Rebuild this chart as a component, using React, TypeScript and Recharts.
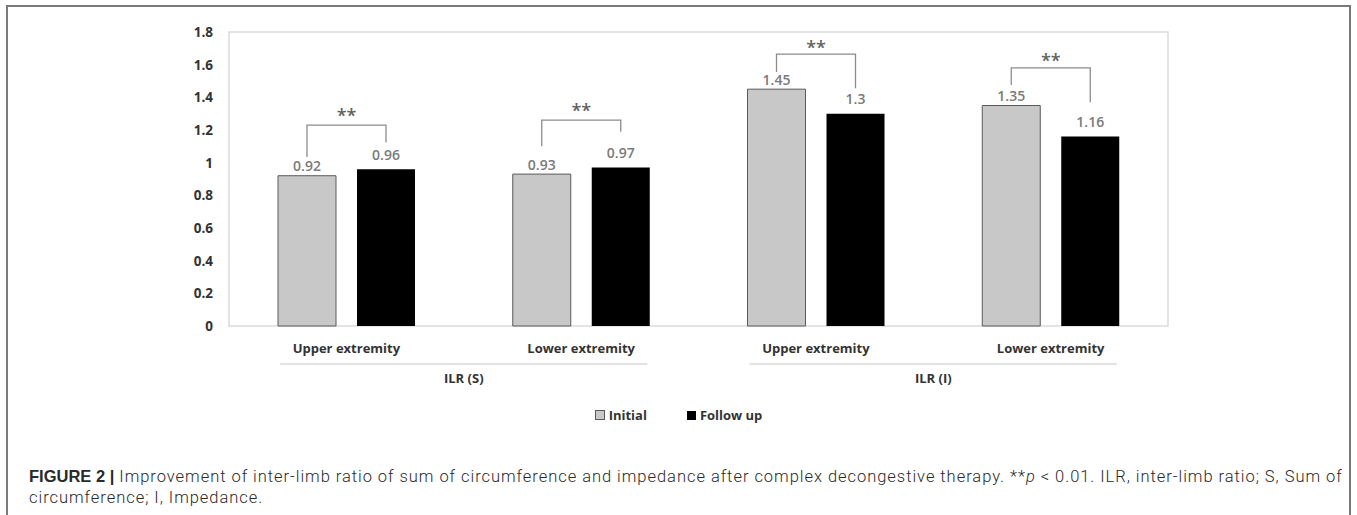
import React from 'react';
import {
  BarChart,
  Bar,
  XAxis,
  YAxis,
  ReferenceArea,
  LabelList,
  Legend,
} from 'recharts';

// ---- data ----
const categories = ['Upper extremity', 'Lower extremity', 'Upper extremity', 'Lower extremity'];
const groups = ['ILR (S)', 'ILR (S)', 'ILR (I)', 'ILR (I)'];
const initialValues = [0.92, 0.93, 1.45, 1.35];
const followUpValues = [0.96, 0.97, 1.3, 1.16];
const yTicks = [0, 0.2, 0.4, 0.6, 0.8, 1, 1.2, 1.4, 1.6, 1.8];
const seriesNames = ['Initial', 'Follow up'];

// significance annotations (value units)
const sigText = ['**', '**', '**', '**'];
const bracketTop = [1.23, 1.26, 1.665, 1.58];
const bracketLeftEnd = [1.035, 1.1, 1.555, 1.475];
const bracketRightEnd = [1.125, 1.19, 1.455, 1.37];
const sigLevel = [1.31, 1.34, 1.725, 1.645];

const data = categories.map((name, i) => ({
  name,
  group: groups[i],
  initial: initialValues[i],
  follow: followUpValues[i],
}));

const BAR_SIZE = 58;
const BAR_GAP = 21;
const AXIS_FONT = '"Open Sans", "Noto Sans", sans-serif';

const geom = (p: any) => {
  const vb = p.viewBox || {};
  return {
    x: p.x ?? vb.x,
    y: p.y ?? vb.y,
    w: p.width ?? vb.width,
    h: p.height ?? vb.height,
  };
};

const InitialLabel = (p: any) => {
  const { x, y, w } = geom(p);
  return (
    <text
      x={x + w / 2}
      y={y - 10}
      textAnchor="middle"
      dominantBaseline="central"
      fontFamily={AXIS_FONT}
      fontSize={14}
      fontWeight={600}
      fill="#7a7a7a"
    >
      {p.value}
    </text>
  );
};

const FollowLabel = (p: any) => {
  const { x, y, w, h } = geom(p);
  const i = p.index;
  const v = followUpValues[i];
  const pxPerUnit = h / v;
  const zeroY = y + h;
  const toY = (val: number) => zeroY - val * pxPerUnit;
  const rightX = x + w / 2;
  const leftX = x - BAR_GAP - w / 2;
  const topY = toY(bracketTop[i]);
  const midX = (leftX + rightX) / 2;
  return (
    <g>
      <text
        x={x + w / 2}
        y={y - 15}
        textAnchor="middle"
        dominantBaseline="central"
        fontFamily={AXIS_FONT}
        fontSize={14}
        fontWeight={600}
        fill="#7a7a7a"
      >
        {p.value}
      </text>
      <path
        d={`M${leftX},${toY(bracketLeftEnd[i])} L${leftX},${topY} L${rightX},${topY} L${rightX},${toY(bracketRightEnd[i])}`}
        fill="none"
        stroke="#8c8c8c"
        strokeWidth={1.3}
      />
      <text
        x={midX}
        y={toY(sigLevel[i]) + 10}
        textAnchor="middle"
        fontFamily={AXIS_FONT}
        fontSize={18}
        fontWeight={600}
        fill="#5f5f5f"
      >
        {sigText[i]}
      </text>
    </g>
  );
};

const CategoryTick = (p: any) => (
  <text
    x={p.x}
    y={p.y + 22}
    textAnchor="middle"
    dominantBaseline="central"
    fontFamily={AXIS_FONT}
    fontSize={13}
    fontWeight={700}
    fill="#333333"
  >
    {p.payload.value}
  </text>
);

const GroupTick = (p: any) => {
  const half = ((p.width ?? 0) / 4) * 0.782;
  return (
    <g>
      <line x1={p.x - half} x2={p.x + half} y1={p.y + 4} y2={p.y + 4} stroke="#d9d9d9" strokeWidth={1.5} />
      <text
        x={p.x}
        y={p.y + 18}
        textAnchor="middle"
        dominantBaseline="central"
        fontFamily={AXIS_FONT}
        fontSize={13}
        fontWeight={700}
        fill="#333333"
      >
        {p.payload.value}
      </text>
    </g>
  );
};

const YTick = (p: any) => (
  <text
    x={p.x}
    y={p.y}
    textAnchor="end"
    dominantBaseline="central"
    fontFamily={AXIS_FONT}
    fontSize={13.5}
    fontWeight={700}
    fill="#333333"
  >
    {p.payload.value}
  </text>
);

const LegendContent = () => (
  <div
    style={{
      height: 30,
      display: 'flex',
      justifyContent: 'center',
      alignItems: 'center',
      gap: 40,
      fontFamily: AXIS_FONT,
      fontSize: 13,
      fontWeight: 700,
      color: '#333333',
    }}
  >
    <div style={{ display: 'flex', alignItems: 'center', gap: 4 }}>
      <span style={{ width: 8, height: 8, background: '#c8c8c8', border: '1px solid #5a5a5a', display: 'inline-block' }} />
      <span>{seriesNames[0]}</span>
    </div>
    <div style={{ display: 'flex', alignItems: 'center', gap: 4 }}>
      <span style={{ width: 9, height: 9, background: '#000000', display: 'inline-block' }} />
      <span>{seriesNames[1]}</span>
    </div>
  </div>
);

export default function App() {
  return (
    <div style={{ position: 'absolute', left: 0, top: 0, width: 1357, height: 515, background: '#fff', overflow: 'hidden' }}>
      <div
        style={{
          position: 'absolute',
          left: 6,
          top: 5,
          width: 1345,
          height: 560,
          border: '2px solid #7a7a7a',
          boxSizing: 'border-box',
        }}
      />
      <div style={{ position: 'absolute', left: 0, top: 0 }}>
        <BarChart
          width={1357}
          height={440}
          data={data}
          margin={{ top: 32, right: 189, bottom: 10, left: 189 }}
          barGap={BAR_GAP}
        >
          <ReferenceArea y1={0} y2={1.8} fill="none" stroke="#dcdcdc" strokeWidth={1.5} ifOverflow="visible" />
          <XAxis
            dataKey="name"
            xAxisId={0}
            height={34}
            axisLine={false}
            tickLine={false}
            tickSize={0}
            tickMargin={0}
            interval={0}
            tick={<CategoryTick />}
          />
          <XAxis
            dataKey="group"
            xAxisId="group"
            allowDuplicatedCategory={false}
            height={40}
            axisLine={false}
            tickLine={false}
            tickSize={0}
            tickMargin={0}
            interval={0}
            tick={<GroupTick />}
          />
          <YAxis
            domain={[0, 1.8]}
            ticks={yTicks}
            width={40}
            axisLine={false}
            tickLine={false}
            tickSize={0}
            tickMargin={16}
            interval={0}
            tick={<YTick />}
          />
          <Legend verticalAlign="bottom" height={30} content={<LegendContent />} />
          <Bar
            dataKey="initial"
            name={seriesNames[0]}
            fill="#c8c8c8"
            stroke="#5a5a5a"
            strokeWidth={1}
            barSize={BAR_SIZE}
            isAnimationActive={false}
          >
            <LabelList dataKey="initial" content={<InitialLabel />} />
          </Bar>
          <Bar
            dataKey="follow"
            name={seriesNames[1]}
            fill="#000000"
            barSize={BAR_SIZE}
            isAnimationActive={false}
          >
            <LabelList dataKey="follow" content={<FollowLabel />} />
          </Bar>
        </BarChart>
      </div>
      <div
        style={{
          position: 'absolute',
          left: 29,
          top: 466,
          width: 1325,
          fontFamily: 'Roboto, "Liberation Sans", Arial, sans-serif',
          fontWeight: 300,
          fontSize: 16.5,
          letterSpacing: '0.96px',
          lineHeight: '21px',
          color: '#2a2a2a',
        }}
      >
        <div style={{ whiteSpace: 'nowrap' }}>
          <span style={{ fontWeight: 700, letterSpacing: '0px', fontFamily: '"Liberation Sans", Arial, sans-serif' }}>FIGURE 2 |</span>{' '}
          Improvement of inter-limb ratio of sum of circumference and impedance after complex decongestive therapy. **
          <i>p</i> &lt; 0.01. ILR, inter-limb ratio; S, Sum of
        </div>
        <div style={{ whiteSpace: 'nowrap' }}>circumference; I, Impedance.</div>
      </div>
    </div>
  );
}
